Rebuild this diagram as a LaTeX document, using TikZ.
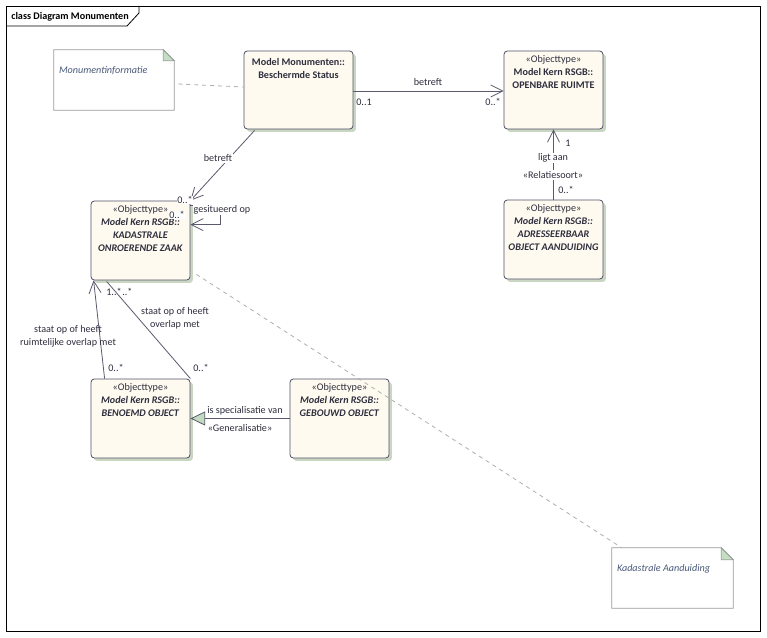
\documentclass[tikz,border=0pt]{standalone}
\usepackage{fontspec}
\setmainfont{Carlito}
\usetikzlibrary{arrows.meta,calc,shadows}
\definecolor{boxfill}{HTML}{FFFAF0}
\definecolor{boxline}{HTML}{50506A}
\definecolor{shadowc}{HTML}{C9D6C2}
\definecolor{conn}{HTML}{5A5A6E}
\definecolor{txtc}{HTML}{2E2E3E}
\definecolor{notetxt}{HTML}{4A5A7A}
\definecolor{noteline}{HTML}{9A9A9A}
\definecolor{foldc}{HTML}{C4DEC4}
\definecolor{gencol}{HTML}{C2DAC0}
\definecolor{dashc}{HTML}{A8B4A8}
\tikzset{
  cls/.style={rectangle, rounded corners=2.5pt, draw=boxline, fill=boxfill, line width=0.6pt,
    inner sep=0pt, general shadow={fill=shadowc, shadow xshift=2.2pt, shadow yshift=-2.2pt}},
  notebox/.style={rectangle, inner sep=0pt},
  boxtxt/.style={anchor=north, inner sep=0pt, align=center, text=txtc},
  lbl/.style={inner sep=0.8pt, text=txtc},
  assoc/.style={draw=conn, line width=0.6pt},
  openarr/.style={-{Straight Barb[length=9pt,width=9pt]}},
  dashline/.style={draw=dashc, dashed, dash pattern=on 3pt off 3pt, line width=0.6pt},
}
\begin{document}
\begin{tikzpicture}[x=0.75pt,y=-0.75pt, font=\fontsize{7.6}{9.75}\selectfont]
\useasboundingbox (0,0) rectangle (767,638);
\fill[white] (0,0) rectangle (767,638);
% frame
\draw[black, line width=0.6pt] (6,6) rectangle (760,631);
\draw[black, line width=0.6pt] (6,26) -- (127,26) -- (139,13) -- (139,6);
\node[anchor=west, inner sep=0pt, text=black] (title) at (11,16.5) {\textbf{class Diagram Monumenten}};

% notes
\node[notebox, minimum width=90pt, minimum height=45pt] (note1) at (114,80) {};
\draw[noteline, fill=white, line width=0.6pt] (note1.north west) -- ($(note1.north east)+(-11,0)$) -- ($(note1.north east)+(0,11)$) -- (note1.south east) -- (note1.south west) -- cycle;
\draw[noteline, fill=foldc, line width=0.6pt] ($(note1.north east)+(-11,0)$) -- ($(note1.north east)+(-11,11)$) -- ($(note1.north east)+(0,11)$) -- cycle;
\node[anchor=west, inner sep=0pt, text=notetxt] (note1t) at ($(note1.north west)+(5,21)$) {\textit{Monumentinformatie}};

\node[notebox, minimum width=90.75pt, minimum height=45pt] (note2) at (672.5,578) {};
\draw[noteline, fill=white, line width=0.6pt] (note2.north west) -- ($(note2.north east)+(-12,0)$) -- ($(note2.north east)+(0,12)$) -- (note2.south east) -- (note2.south west) -- cycle;
\draw[noteline, fill=foldc, line width=0.6pt] ($(note2.north east)+(-12,0)$) -- ($(note2.north east)+(-12,12)$) -- ($(note2.north east)+(0,12)$) -- cycle;
\node[anchor=west, inner sep=0pt, text=notetxt] (note2t) at ($(note2.north west)+(5,21)$) {\textit{Kadastrale Aanduiding}};

% classes
\node[cls, minimum width=81.75pt, minimum height=58.5pt] (bs) at (298.5,90) {};
\node[boxtxt] (bst) at ($(bs.north)+(0,8)$) {\textbf{Model Monumenten::}\\\textbf{Beschermde Status}};

\node[cls, minimum width=74.25pt, minimum height=58.5pt] (or) at (553.5,90) {};
\node[boxtxt] (ort) at ($(or.north)+(0,5)$) {«Objecttype»\\\textbf{Model Kern RSGB::}\\\textbf{OPENBARE RUIMTE}};

\node[cls, minimum width=74.25pt, minimum height=59.25pt] (kad) at (140.5,240.5) {};
\node[boxtxt] (kadt) at ($(kad.north)+(0,4.5)$) {«Objecttype»\\\textbf{\textit{Model Kern RSGB::}}\\\textbf{\textit{KADASTRALE}}\\\textbf{\textit{ONROERENDE ZAAK}}};

\node[cls, minimum width=74.25pt, minimum height=59.25pt] (ad) at (553.5,239.5) {};
\node[boxtxt] (adt) at ($(ad.north)+(0,5)$) {«Objecttype»\\\textbf{\textit{Model Kern RSGB::}}\\\textbf{\textit{ADRESSEERBAAR}}\\\textbf{\textit{OBJECT AANDUIDING}}};

\node[cls, minimum width=74.25pt, minimum height=59.25pt] (ben) at (140.5,418.5) {};
\node[boxtxt] (bent) at ($(ben.north)+(0,5)$) {«Objecttype»\\\textbf{\textit{Model Kern RSGB::}}\\\textbf{\textit{BENOEMD OBJECT}}};

\node[cls, minimum width=74.25pt, minimum height=59.25pt] (geb) at (339.5,418.5) {};
\node[boxtxt] (gebt) at ($(geb.north)+(0,5)$) {«Objecttype»\\\textbf{\textit{Model Kern RSGB::}}\\\textbf{\textit{GEBOUWD OBJECT}}};

% dashed note links
\draw[dashline] ($(note1.east)+(4,4)$) -- ($(bs.west)+(0,-3)$);
\draw[dashline] ($(kad.south east)+(6,-6)$) -- ($(note2.north west)+(10,0)$);

% bs -> or
\draw[assoc, openarr] ($(bs.east)+(0,1)$) -- ($(or.west)+(0,1)$);
\node[lbl] (l1) at (428,82) {betreft};
\node[lbl, anchor=west] (l1a) at (355,102) {0..1};
\node[lbl, anchor=east] (l1b) at (502,102) {0..*};

% bs -> kad
\draw[assoc, openarr] ($(bs.south west)+(11,1)$) -- (kad.north east);
\node[lbl, fill=white] (l2) at (218,158) {betreft};
\node[lbl, fill=white, inner sep=0.3pt] (l2b) at (185,200) {0..*};

% kad self
\draw[assoc, openarr] ($(kad.north east)+(0,5)$) -- ++(30,0) -- ++(0,19) -- ($(kad.north east)+(0,24)$);
\node[lbl, fill=white, anchor=west, inner sep=0.3pt] (l3) at (193,210) {gesitueerd op};
\node[lbl, fill=white, inner sep=0.3pt] (l3b) at (177,215) {0..*};

% ad -> or
\draw[assoc, openarr] (ad.north) -- (or.south);
\node[lbl] (l4a) at (568,143) {1};
\node[lbl, fill=white] (l4) at (553,158) {ligt aan};
\node[lbl, fill=white] (l4s) at (553,175) {«Relatiesoort»};
\node[lbl] (l4b) at (566,190) {0..*};

% ben -> kad (1)
\draw[assoc, openarr] ($(ben.north west)+(14,0)$) -- ($(kad.south west)+(3,0)$);
\node[lbl, align=center] (l5) at (68,336) {staat op of heeft\\ruimtelijke overlap met};
\node[lbl] (l5b) at (116,368) {0..*};
% ben -> kad (2)
\draw[assoc] (ben.north east) -- ($(kad.south west)+(16,1)$);
\node[lbl, align=center] (l6) at (175,318) {staat op of heeft\\overlap met};
\node[lbl] (l6b) at (201,368) {0..*};
\node[lbl, anchor=west] (l6c) at (105,292) {1..*};
\node[lbl, anchor=west] (l6d) at (121,292) {..*};

% generalization
\draw[assoc, -{Triangle[length=11pt,width=10.5pt,fill=gencol]}] (geb.west) -- (ben.east);
\node[lbl] (l7) at (245,411) {is specialisatie van};
\node[lbl] (l7s) at (240,428) {«Generalisatie»};
\end{tikzpicture}
\end{document}
